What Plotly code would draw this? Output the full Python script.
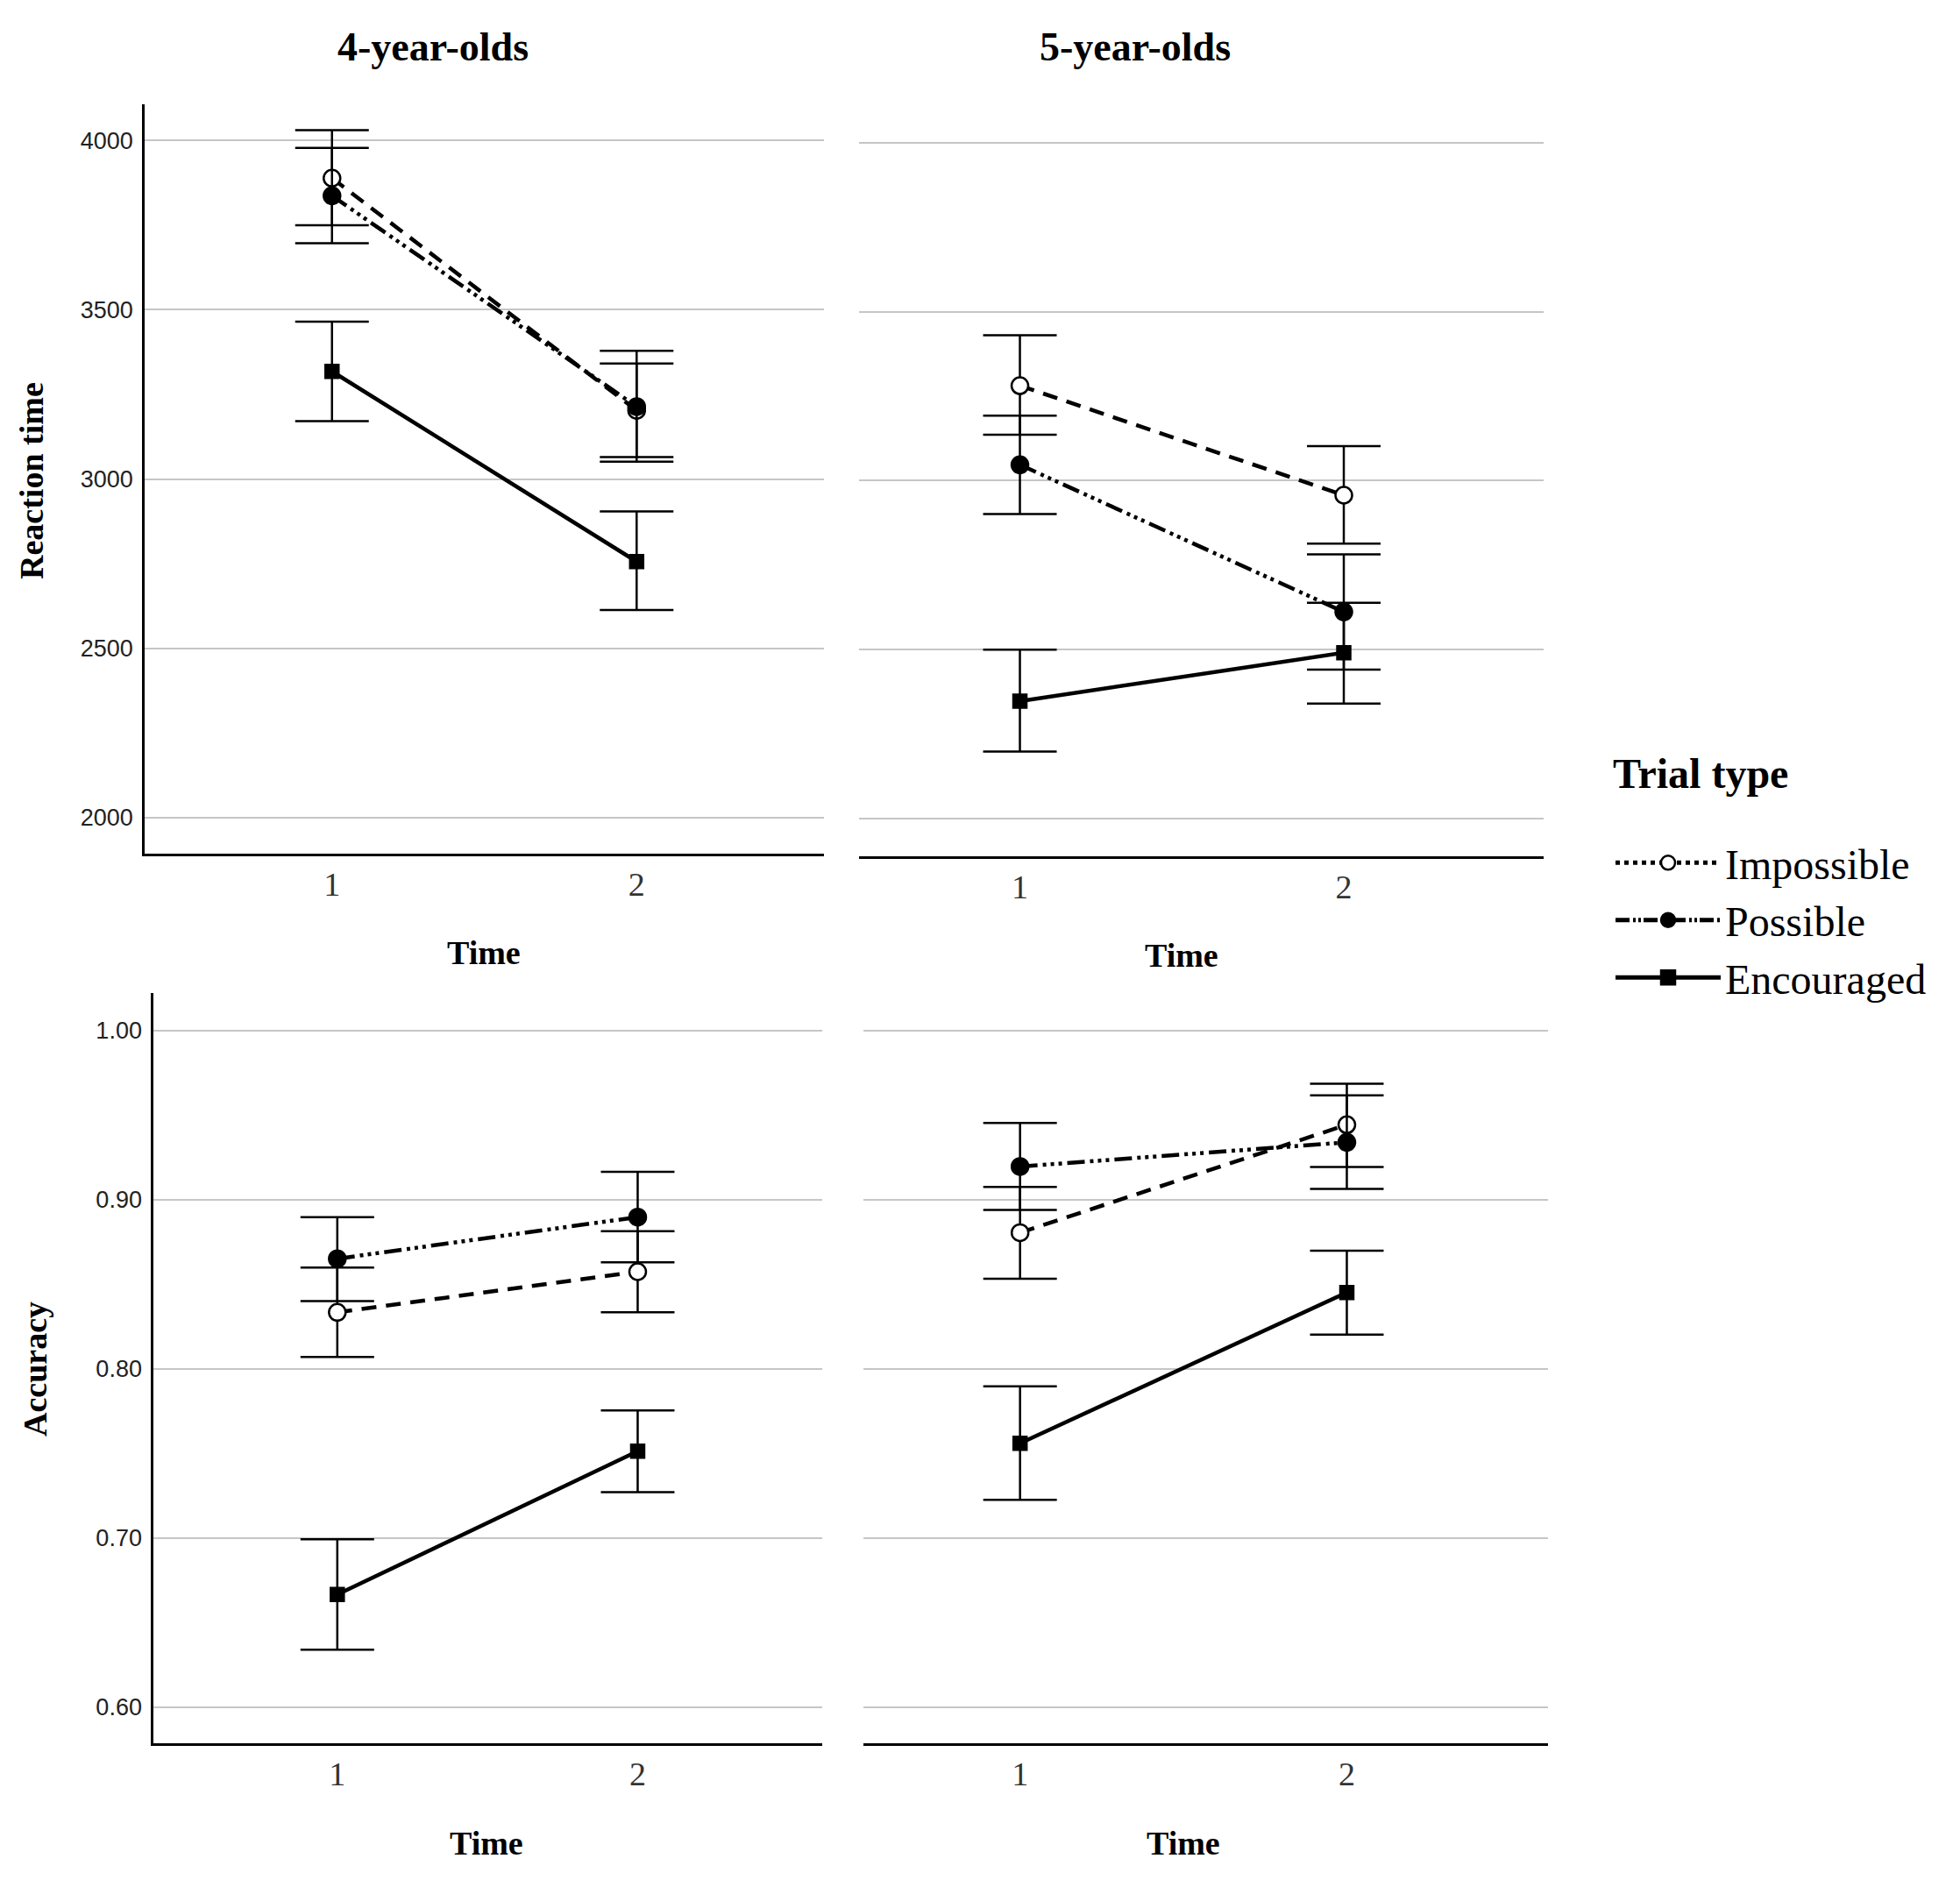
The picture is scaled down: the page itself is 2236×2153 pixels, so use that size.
import plotly.graph_objects as go

# ---------------- data ----------------
times = [1, 2]
series_names = ["Impossible", "Possible", "Encouraged"]
panel_titles = ["4-year-olds", "5-year-olds"]
rt_ticks = [2000, 2500, 3000, 3500, 4000]
acc_ticks = [0.60, 0.70, 0.80, 0.90, 1.00]

# Reaction time, 4-year-olds
rt4_imp_mean = [3889, 3203]
rt4_imp_lo = [3750, 3065]
rt4_imp_hi = [4031, 3341]
rt4_pos_mean = [3837, 3214]
rt4_pos_lo = [3697, 3051]
rt4_pos_hi = [3978, 3379]
rt4_enc_mean = [3318, 2756]
rt4_enc_lo = [3171, 2613]
rt4_enc_hi = [3465, 2904]

# Reaction time, 5-year-olds
rt5_imp_mean = [3281, 2957]
rt5_imp_lo = [3136, 2814]
rt5_imp_hi = [3430, 3102]
rt5_pos_mean = [3047, 2612]
rt5_pos_lo = [2901, 2441]
rt5_pos_hi = [3192, 2782]
rt5_enc_mean = [2348, 2491]
rt5_enc_lo = [2199, 2341]
rt5_enc_hi = [2500, 2639]

# Accuracy, 4-year-olds
acc4_imp_mean = [0.8335, 0.8575]
acc4_imp_lo = [0.8071, 0.8335]
acc4_imp_hi = [0.8600, 0.8815]
acc4_pos_mean = [0.8652, 0.8898]
acc4_pos_lo = [0.8401, 0.8631]
acc4_pos_hi = [0.8898, 0.9166]
acc4_enc_mean = [0.6667, 0.7514]
acc4_enc_lo = [0.6341, 0.7272]
acc4_enc_hi = [0.6994, 0.7755]

# Accuracy, 5-year-olds
acc5_imp_mean = [0.8806, 0.9444]
acc5_imp_lo = [0.8533, 0.9194]
acc5_imp_hi = [0.9076, 0.9687]
acc5_pos_mean = [0.9197, 0.9340]
acc5_pos_lo = [0.8940, 0.9065]
acc5_pos_hi = [0.9454, 0.9618]
acc5_enc_mean = [0.7561, 0.8452]
acc5_enc_lo = [0.7227, 0.8203]
acc5_enc_hi = [0.7897, 0.8700]

# ---------------- styling ----------------
SERIF = "Liberation Serif, Times New Roman, serif"
SANS = "Liberation Sans, Arial, sans-serif"
W, H = 2236, 2153

line_styles = {
    "Impossible": dict(dash="17px,11px", symbol="circle", fill="white", size=19),
    "Possible": dict(dash="20px,6px,4px,5px,4px,5px,4px,6px", symbol="circle", fill="black", size=19),
    "Encouraged": dict(dash="solid", symbol="square", fill="black", size=15),
}
legend_dash = {"Impossible": "dot", "Possible": "16px,4px,3px,3px,3px,3px", "Encouraged": "solid"}

panels = [
    ("x", "y", {"Impossible": (rt4_imp_mean, rt4_imp_lo, rt4_imp_hi),
                "Possible": (rt4_pos_mean, rt4_pos_lo, rt4_pos_hi),
                "Encouraged": (rt4_enc_mean, rt4_enc_lo, rt4_enc_hi)}),
    ("x2", "y2", {"Impossible": (rt5_imp_mean, rt5_imp_lo, rt5_imp_hi),
                  "Possible": (rt5_pos_mean, rt5_pos_lo, rt5_pos_hi),
                  "Encouraged": (rt5_enc_mean, rt5_enc_lo, rt5_enc_hi)}),
    ("x3", "y3", {"Impossible": (acc4_imp_mean, acc4_imp_lo, acc4_imp_hi),
                  "Possible": (acc4_pos_mean, acc4_pos_lo, acc4_pos_hi),
                  "Encouraged": (acc4_enc_mean, acc4_enc_lo, acc4_enc_hi)}),
    ("x4", "y4", {"Impossible": (acc5_imp_mean, acc5_imp_lo, acc5_imp_hi),
                  "Possible": (acc5_pos_mean, acc5_pos_lo, acc5_pos_hi),
                  "Encouraged": (acc5_enc_mean, acc5_enc_lo, acc5_enc_hi)}),
]

fig = go.Figure()

draw_order = ["Encouraged", "Impossible", "Possible"]
for xa, ya, data in panels:
    for name in draw_order:
        mean, lo, hi = data[name]
        st = line_styles[name]
        fig.add_trace(go.Scatter(
            x=times, y=mean, xaxis=xa, yaxis=ya, mode="lines+markers",
            name=name, showlegend=False,
            line=dict(color="black", width=4.5, dash=st["dash"]),
            marker=dict(symbol=st["symbol"], size=st["size"], color=st["fill"],
                        line=dict(color="black", width=2.5)),
            error_y=dict(type="data", symmetric=False,
                         array=[h - m for h, m in zip(hi, mean)],
                         arrayminus=[m - l for m, l in zip(mean, lo)],
                         color="black", thickness=2.5, width=42),
        ))

# legend entries
for name in series_names:
    st = line_styles[name]
    fig.add_trace(go.Scatter(
        x=[None], y=[None], xaxis="x", yaxis="y", mode="lines+markers", name=name,
        line=dict(color="black", width=5, dash=legend_dash[name]),
        marker=dict(symbol=st["symbol"], size=28 if name != "Encouraged" else 24,
                    color=st["fill"], line=dict(color="black", width=2.5)),
    ))

common_x = dict(showline=True, linecolor="black", linewidth=2.5, tickvals=times,
                showgrid=False, zeroline=False, ticks="", ticklabelstandoff=0,
                tickfont=dict(family=SERIF, size=38, color="#333333"))
common_y = dict(showgrid=True, gridcolor="#c6c6c6", gridwidth=1.8, zeroline=False,
                ticks="", ticklabelstandoff=5,
                tickfont=dict(family=SANS, size=27, color="#222222"))

fig.update_layout(
    width=W, height=H, autosize=False,
    paper_bgcolor="white", plot_bgcolor="white",
    margin=dict(l=0, r=0, t=0, b=0),
    xaxis=dict(domain=[0.0738, 0.4204], range=[0.385, 2.615], anchor="y", **common_x),
    yaxis=dict(domain=[0.5476, 0.9447], range=[1893, 4107], anchor="x", tickvals=rt_ticks,
               showline=True, linecolor="black", linewidth=2.5, **common_y),
    xaxis2=dict(domain=[0.4384, 0.7874], range=[0.504, 2.616], anchor="y2", **common_x),
    yaxis2=dict(domain=[0.5462, 0.9447], range=[1889, 4113], anchor="x2", tickvals=rt_ticks,
                showline=False, showticklabels=False, **common_y),
    xaxis3=dict(domain=[0.0783, 0.4196], range=[0.388, 2.615], anchor="y3", **common_x),
    yaxis3=dict(domain=[0.0762, 0.4737], range=[0.5788, 1.0222], anchor="x3", tickvals=acc_ticks,
                tickformat=".2f", showline=True, linecolor="black", linewidth=2.5, **common_y),
    xaxis4=dict(domain=[0.4404, 0.7897], range=[0.52, 2.615], anchor="y4", **common_x),
    yaxis4=dict(domain=[0.0762, 0.4737], range=[0.5788, 1.0222], anchor="x4", tickvals=acc_ticks,
                showline=False, showticklabels=False, **common_y),
    legend=dict(x=0.822, y=0.605, xanchor="left", yanchor="top",
                font=dict(family=SERIF, size=48, color="black"),
                title=dict(text="<span style='font-size:48px'><b>Trial type</b></span><br>\u00a0",
                           font=dict(family=SERIF, size=37, color="black")),
                tracegroupgap=0, itemwidth=120, bgcolor="rgba(0,0,0,0)"),
    showlegend=True,
)

ann_font_title = dict(family=SERIF, size=46, color="black")
ann_font_axis = dict(family=SERIF, size=38, color="black")
annotations = [
    dict(text="<b>%s</b>" % panel_titles[0], x=494 / W, y=1 - 54 / H, font=ann_font_title),
    dict(text="<b>%s</b>" % panel_titles[1], x=1295 / W, y=1 - 54 / H, font=ann_font_title),
    dict(text="<b>Reaction time</b>", x=36 / W, y=1 - 549 / H, textangle=-90, font=ann_font_axis),
    dict(text="<b>Accuracy</b>", x=40 / W, y=1 - 1562 / H, textangle=-90, font=ann_font_axis),
    dict(text="<b>Time</b>", x=552 / W, y=1 - 1087 / H, font=ann_font_axis),
    dict(text="<b>Time</b>", x=1348 / W, y=1 - 1090 / H, font=ann_font_axis),
    dict(text="<b>Time</b>", x=555 / W, y=1 - 2103 / H, font=ann_font_axis),
    dict(text="<b>Time</b>", x=1350 / W, y=1 - 2103 / H, font=ann_font_axis),
]
for a in annotations:
    a.update(xref="paper", yref="paper", showarrow=False, xanchor="center", yanchor="middle")
fig.update_layout(annotations=annotations)

fig.write_html("out.html", config={"displayModeBar": False},
               post_script="document.body.style.margin='0';document.body.style.overflow='hidden';")
